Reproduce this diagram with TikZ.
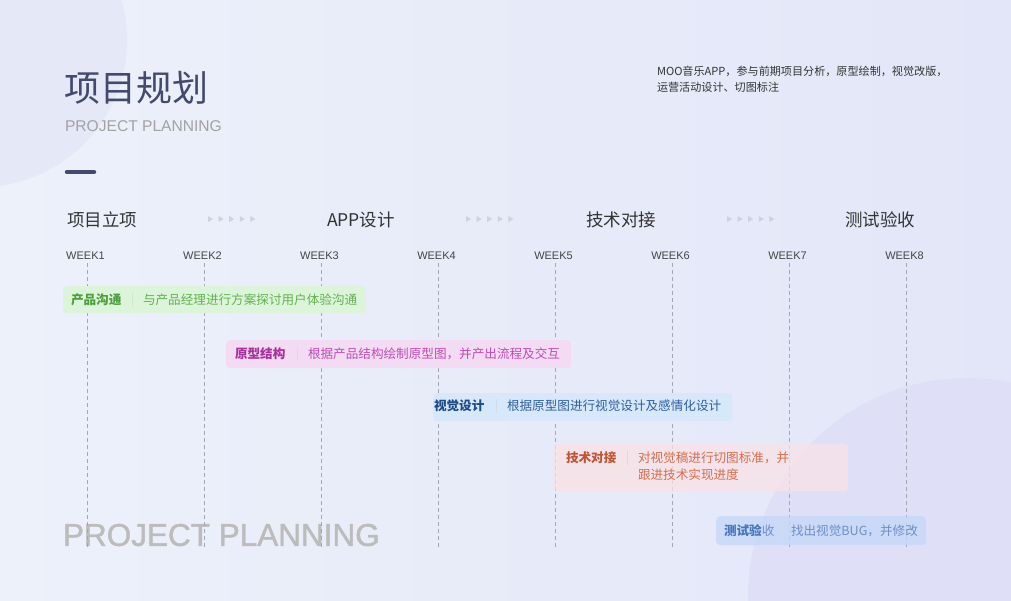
\documentclass[tikz,border=0pt]{standalone}
\usepackage{fontspec}
\setmainfont{Liberation Sans}
\newfontfamily\cjk{Noto Sans CJK SC}
\newfontfamily\bigfont{Liberation Sans}[FakeBold=1.3]
\definecolor{bgL}{HTML}{ECF1FA}
\definecolor{bgR}{HTML}{E3E6F8}
\definecolor{circA}{HTML}{E5E8F7}
\definecolor{circB}{HTML}{DFE0F8}
\definecolor{titlec}{HTML}{434A6B}
\definecolor{subgray}{HTML}{A2A2A2}
\definecolor{darktext}{HTML}{333333}
\definecolor{weekc}{HTML}{444444}
\definecolor{gridc}{HTML}{A4A7B0}
\definecolor{arrc}{HTML}{CDD2DE}
\definecolor{bigc}{HTML}{BDBCBC}
\definecolor{gF}{HTML}{DCF4D9}\definecolor{gB}{HTML}{4E9E3E}\definecolor{gT}{HTML}{63B152}
\definecolor{pF}{HTML}{F2DBF3}\definecolor{pB}{HTML}{A8309C}\definecolor{pT}{HTML}{BE4DB3}
\definecolor{bF}{HTML}{D7E8FB}\definecolor{bB}{HTML}{1E4A86}\definecolor{bT}{HTML}{2F5E9C}
\definecolor{rF}{HTML}{F9E2E6}\definecolor{rB}{HTML}{BE5536}\definecolor{rT}{HTML}{D36E4E}
\definecolor{tF}{HTML}{C6D8F8}\definecolor{tB}{HTML}{4676B8}\definecolor{tT}{HTML}{6D8FC6}
\tikzset{
  txt/.style={anchor=west, inner sep=0pt, outer sep=0pt},
  bartxt/.style={txt, font=\cjk\fontsize{12.6}{15}\selectfont},
  barbold/.style={txt, font=\cjk\bfseries\fontsize{12.6}{15}\selectfont},
  barbox/.style={draw=none, rounded corners=4pt, anchor=north west, inner sep=0pt},
  phase/.style={txt, font=\cjk\fontsize{17.5}{20}\selectfont, text=darktext},
  weeklbl/.style={inner sep=0pt, font=\fontsize{11}{13}\selectfont, text=weekc},
  grid/.style={gridc, line width=0.8pt, dash pattern=on 4pt off 3pt},
  sepline/.style={line width=0.7pt},
  tri/.style={fill=arrc, draw=none}
}
\begin{document}
\begin{tikzpicture}[x=1pt,y=-1pt]
\useasboundingbox (0,0) rectangle (1011,600);
\clip (0,0) rectangle (1011,600);
% background
\shade[left color=bgL, right color=bgR] (0,0) rectangle (1011,600);
\fill[circA] (-20,40) circle[radius=147pt];
\fill[circB] (967,597) circle[radius=219pt];

% title block
\node[txt, font=\cjk\fontsize{36}{40}\selectfont, text=titlec] (title) at (64,88) {项目规划};
\node[txt, font=\fontsize{15.6}{18}\selectfont, text=subgray] (subtitle) at (65,126) {PROJECT PLANNING};
\draw[titlec, line width=4.5pt, line cap=round] (67,172) coordinate (d1) -- (94,172) coordinate (d2);

% top right description
\node[txt, font=\cjk\fontsize{11.1}{14}\selectfont, text=darktext] (desc1) at (657,71) {MOO音乐APP，参与前期项目分析，原型绘制，视觉改版，};
\node[txt, font=\cjk\fontsize{11.1}{14}\selectfont, text=darktext] (desc2) at (657,87) {运营活动设计、切图标注};

% big bottom text
\node[txt, font=\bigfont\fontsize{31.5}{36}\selectfont, text=bigc] (big) at (63,535) {PROJECT PLANNING};

% phases
\node[phase] (ph1) at (67,220) {项目立项};
\node[phase] (ph2) at (327,220) {APP设计};
\node[phase] (ph3) at (586,220) {技术对接};
\node[phase] (ph4) at (845,220) {测试验收};
\foreach \s [count=\k] in {208,466,727}{
  \foreach \j in {0,...,4}{
    \fill[tri] (\s+\j*10.6,216) -- (\s+\j*10.6+5,219) -- (\s+\j*10.6,222) -- cycle;
  }
}

% weeks and grid
\foreach \i in {1,...,8}{
  \pgfmathsetmacro{\xx}{87+117*(\i-1)}
  \node[weeklbl] (w\i) at (\xx-1.5,256) {WEEK\i};
  \coordinate (gt\i) at (\xx,263);
  \coordinate (gb\i) at (\xx,548);
  \draw[grid] (gt\i) -- (gb\i);
}

% bar 1
\node[barbox, fill=gF, minimum width=303pt, minimum height=27pt] (bar1) at (63,286) {};
\node[barbold, text=gB] (b1h) at (71,299.5) {产品沟通};
\draw[sepline, gB!25] (132,292.5) coordinate (s1a) -- (132,306.5) coordinate (s1b);
\node[bartxt, text=gT] (b1t) at (143,299.5) {与产品经理进行方案探讨用户体验沟通};

% bar 2
\node[barbox, fill=pF, minimum width=345pt, minimum height=28pt] (bar2) at (226,340) {};
\node[barbold, text=pB] (b2h) at (235,354) {原型结构};
\draw[sepline, pB!22] (297,347) coordinate (s2a) -- (297,361) coordinate (s2b);
\node[bartxt, text=pT] (b2t) at (308,354) {根据产品结构绘制原型图，并产出流程及交互};

% bar 3
\node[barbox, fill=bF, minimum width=299pt, minimum height=28pt] (bar3) at (433,393) {};
\node[barbold, text=bB] (b3h) at (434,406) {视觉设计};
\draw[sepline, bB!20] (496,399) coordinate (s3a) -- (496,413) coordinate (s3b);
\node[bartxt, text=bT] (b3t) at (507,406) {根据原型图进行视觉设计及感情化设计};

% bar 4
\node[barbox, fill=rF, fill opacity=0.75, minimum width=295pt, minimum height=47pt] (bar4) at (553,444) {};
\node[barbold, text=rB] (b4h) at (566,458) {技术对接};
\draw[sepline, rB!25] (627,451) coordinate (s4a) -- (627,465) coordinate (s4b);
\node[bartxt, text=rT] (b4t1) at (638,458) {对视觉稿进行切图标准，并};
\node[bartxt, text=rT] (b4t2) at (638,475) {跟进技术实现进度};

% bar 5
\node[barbox, fill=tF, fill opacity=0.8, minimum width=210pt, minimum height=29pt] (bar5) at (716,516) {};
\node[barbold, text=tB] (b5h) at (724,530.5) {测试验\textmd{\color{tT}收}};
\draw[sepline, tB!25] (782,523.5) coordinate (s5a) -- (782,537.5) coordinate (s5b);
\node[bartxt, text=tT] (b5t) at (791,530.5) {找出视觉BUG，并修改};
\end{tikzpicture}
\end{document}
